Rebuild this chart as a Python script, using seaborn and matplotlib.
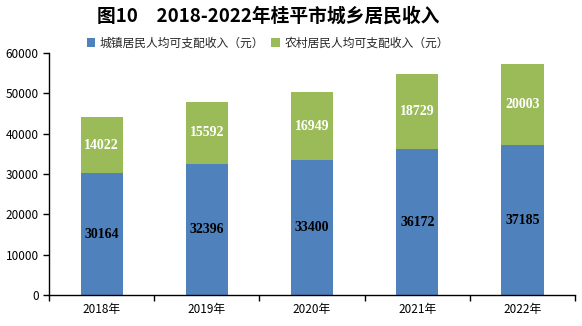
import matplotlib
matplotlib.use("Agg")
import matplotlib.pyplot as plt
import seaborn as sns
import pandas as pd
import numpy as np

years = ["2018年", "2019年", "2020年", "2021年", "2022年"]
urban = [30164, 32396, 33400, 36172, 37185]
rural = [14022, 15592, 16949, 18729, 20003]
urban_label = "城镇居民人均可支配收入（元）"
rural_label = "农村居民人均可支配收入（元）"
title = "图10　2018-2022年桂平市城乡居民收入"

sns.set_theme(style="white")
plt.rcParams['font.family'] = ['Noto Sans CJK SC', 'DejaVu Sans']

blue = "#4F81BD"
green = "#9BBB59"

df = pd.DataFrame({"year": years, "urban": urban, "rural": rural})
df["total"] = df["urban"] + df["rural"]

fig = plt.figure(figsize=(5.82, 3.26), dpi=100)
ax = fig.add_axes([0.0842, 0.095, 0.904, 0.742])

sns.barplot(data=df, x="year", y="total", color=green, width=0.4, ax=ax,
            saturation=1, label=rural_label, linewidth=0)
sns.barplot(data=df, x="year", y="urban", color=blue, width=0.4, ax=ax,
            saturation=1, label=urban_label, linewidth=0)

for i, (u, r) in enumerate(zip(urban, rural)):
    ax.text(i, u / 2, str(u), ha="center", va="center", color="black",
            fontsize=10, fontweight="bold", family="Liberation Serif")
    ax.text(i, u + r / 2, str(r), ha="center", va="center", color="white",
            fontsize=10, fontweight="bold", family="Liberation Serif")

ax.set_xlim(-0.5, 4.5)
ax.set_ylim(0, 60000)
ax.set_yticks(np.arange(0, 60001, 10000))
ax.set_xlabel("")
ax.set_ylabel("")
ax.set_xticks(range(5))
ax.set_xticklabels(years)
ax.set_xticks(np.arange(-0.5, 4.6, 1), minor=True)
ax.tick_params(axis="x", which="major", length=0, labelsize=8.5, pad=6, colors="black")
ax.tick_params(axis="x", which="minor", length=4, width=1, color="black", direction="out", bottom=True)
ax.tick_params(axis="y", which="major", length=4, width=1, color="black", direction="out", left=True,
               labelsize=8.5, colors="black")
for s in ["top", "right"]:
    ax.spines[s].set_visible(False)
for s in ["left", "bottom"]:
    ax.spines[s].set_color("black")
    ax.spines[s].set_linewidth(1)
ax.grid(False)

handles, labels = ax.get_legend_handles_labels()
order = [labels.index(urban_label), labels.index(rural_label)]
ax.legend([handles[i] for i in order], [labels[i] for i in order],
          loc="center", bbox_to_anchor=(0.46, 0.868), bbox_transform=fig.transFigure,
          ncol=2, frameon=False, fontsize=8.5, handlelength=0.7, handleheight=0.7,
          handletextpad=0.4, columnspacing=0.6)

fig.text(0.46, 0.95, title, ha="center", va="center", fontsize=13.5, fontweight="bold", color="black")

fig.savefig("out.png", dpi=100)
